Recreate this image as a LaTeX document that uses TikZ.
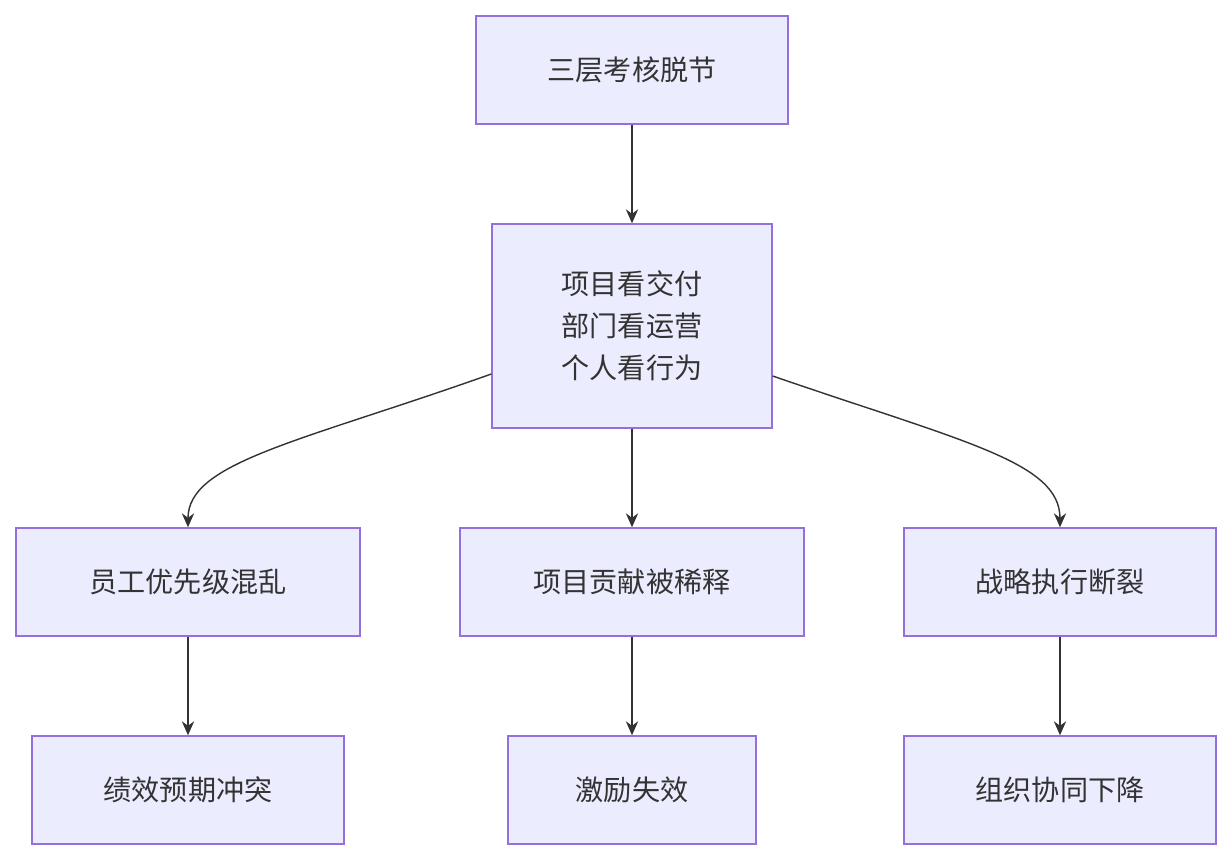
\documentclass[tikz,border=0pt]{standalone}
\usepackage{fontspec}
\setmainfont{Noto Sans CJK SC}
\usetikzlibrary{arrows.meta}
\definecolor{boxfill}{HTML}{ECECFF}
\definecolor{boxline}{HTML}{9370DB}
\definecolor{edge}{HTML}{333333}
\begin{document}
\begin{tikzpicture}[x=0.02cm,y=-0.02cm,
  box/.style={draw=boxline,fill=boxfill,line width=0.8pt,inner sep=0pt,align=center,font=\fontsize{16}{24}\selectfont,text=edge},
  arr/.style={draw=edge,line width=0.8pt,-{Stealth[length=8pt,width=7pt]}}]
\useasboundingbox (0,0) rectangle (1232,860);
\node[box,minimum width=312*0.02cm,minimum height=108*0.02cm] (a) at (632,70) {三层考核脱节};
\node[box,minimum width=280*0.02cm,minimum height=204*0.02cm] (b) at (632,326) {项目看交付\\部门看运营\\个人看行为};
\node[box,minimum width=344*0.02cm,minimum height=108*0.02cm] (c1) at (188,582) {员工优先级混乱};
\node[box,minimum width=344*0.02cm,minimum height=108*0.02cm] (c2) at (632,582) {项目贡献被稀释};
\node[box,minimum width=312*0.02cm,minimum height=108*0.02cm] (c3) at (1060,582) {战略执行断裂};
\node[box,minimum width=312*0.02cm,minimum height=108*0.02cm] (d1) at (188,790) {绩效预期冲突};
\node[box,minimum width=248*0.02cm,minimum height=108*0.02cm] (d2) at (632,790) {激励失效};
\node[box,minimum width=312*0.02cm,minimum height=108*0.02cm] (d3) at (1060,790) {组织协同下降};
\draw[arr] (a) -- (b);
\draw[arr] (b) -- (c2);
\draw[arr] (b.west |- 0,374) .. controls (300,442) and (188,462) .. (c1.north);
\draw[arr] (b.east |- 0,376) .. controls (964,442) and (1060,462) .. (c3.north);
\draw[arr] (c1) -- (d1);
\draw[arr] (c2) -- (d2);
\draw[arr] (c3) -- (d3);
\end{tikzpicture}
\end{document}
